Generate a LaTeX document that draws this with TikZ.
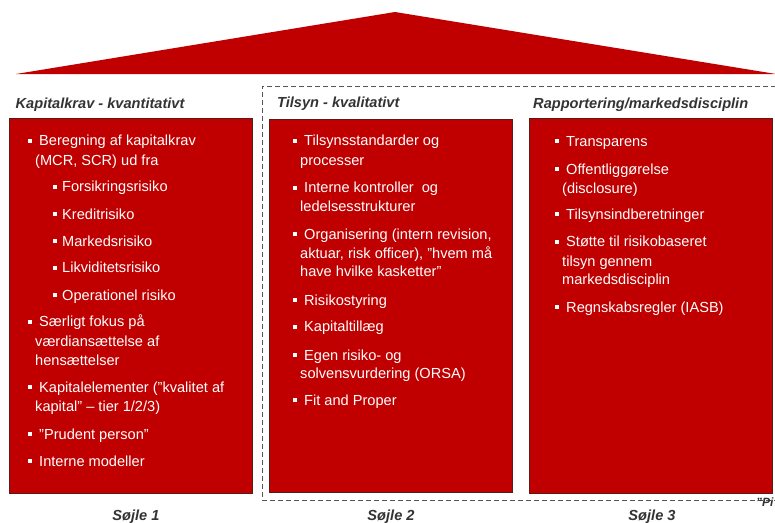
\documentclass[tikz,border=0pt]{standalone}
\usepackage{fontspec}
\setmainfont{Liberation Sans}
\definecolor{pred}{HTML}{C00000}
\definecolor{pborder}{HTML}{5A1A1A}
\definecolor{hdrgray}{HTML}{333333}
\definecolor{dashgray}{HTML}{555555}
\newcommand\pitem[5]{%
  \node[bul] (#1b) at ({#2+2},{#4-5}) {};
  \node[ln] (#1) at (#3,#4) {#5};}
\newcommand\pcont[4]{%
  \node[ln] (#1) at (#2,#3) {#4};}
\begin{document}
\begin{tikzpicture}[x=1pt,y=-1pt,
  roof/.style={fill=pred},
  pillar/.style={draw=pborder,fill=pred,line width=0.8pt},
  frame/.style={draw=dashgray,dash pattern=on 5pt off 3pt,line width=0.8pt},
  hdr/.style={font=\fontsize{14.6}{17}\selectfont\bfseries\itshape,text=hdrgray,anchor=base west,inner sep=0pt},
  ft/.style={font=\fontsize{14.6}{17}\selectfont\bfseries\itshape,text=hdrgray,anchor=base,inner sep=0pt},
  ln/.style={font=\fontsize{14.6}{17}\selectfont,text=white,anchor=base west,inner sep=0pt},
  bul/.style={fill=white,minimum size=4pt,inner sep=0pt,outer sep=0pt}]
\useasboundingbox (0,0) rectangle (775,522);
% roof
\fill[roof] (16,74) -- (395,12) -- (776,74) -- cycle;
% dashed frame
\draw[frame] (776,86) -- (262,86) -- (262,500) -- (776,500);
% pillars
\draw[pillar] (9,118) rectangle (252,493);
\draw[pillar] (269,119) rectangle (512,492);
\draw[pillar] (529,118) rectangle (772,493);
% headers
\node[hdr] (h1) at (15.5,108) {Kapitalkrav - kvantitativt};
\node[hdr] (h2) at (277,107) {Tilsyn - kvalitativt};
\node[hdr] (h3) at (533,108) {Rapportering/markedsdisciplin};
% footers
\node[ft] (s1) at (136,520) {Søjle 1};
\node[ft] (s2) at (391,520) {Søjle 2};
\node[ft] (s3) at (652,520) {Søjle 3};
\node[hdr,font=\fontsize{12}{14}\selectfont\bfseries\itshape] (pi) at (756,506) {"Pi};
% pillar 1
\pitem{a1}{28}{39}{145.7}{Beregning af kapitalkrav}
\pcont{a1c}{35}{165}{(MCR, SCR) ud fra}
\pitem{s11}{53}{62}{191.7}{Forsikringsrisiko}
\pitem{s12}{53}{62}{219}{Kreditrisiko}
\pitem{s13}{53}{62}{246}{Markedsrisiko}
\pitem{s14}{53}{62}{272.7}{Likviditetsrisiko}
\pitem{s15}{53}{62}{300}{Operationel risiko}
\pitem{a2}{28}{39}{326.7}{Særligt fokus på}
\pcont{a2c}{35}{346.5}{værdiansættelse af}
\pcont{a2d}{35}{365.7}{hensættelser}
\pitem{a3}{28}{39}{392.3}{Kapitalelementer (”kvalitet af}
\pcont{a3c}{35}{411.7}{kapital” – tier 1/2/3)}
\pitem{a4}{28}{39}{439}{”Prudent person”}
\pitem{a5}{28}{39}{466}{Interne modeller}
% pillar 2
\pitem{b1}{293}{304}{145.7}{Tilsynsstandarder og}
\pcont{b1c}{300}{165}{processer}
\pitem{b2}{293}{304}{192.7}{Interne kontroller\ \ og}
\pcont{b2c}{300}{211}{ledelsesstrukturer}
\pitem{b3}{293}{304}{239.3}{Organisering (intern revision,}
\pcont{b3c}{300}{258.3}{aktuar, risk officer), "hvem må}
\pcont{b3d}{300}{276.7}{have hvilke kasketter"}
\pitem{b4}{293}{304}{305}{Risikostyring}
\pitem{b5}{293}{304}{331.7}{Kapitaltillæg}
\pitem{b6}{293}{304}{360}{Egen risiko- og}
\pcont{b6c}{300}{378.3}{solvensvurdering (ORSA)}
\pitem{b7}{293}{304}{405}{Fit and Proper}
% pillar 3
\pitem{c1}{555}{566}{146}{Transparens}
\pitem{c2}{555}{566}{174.3}{Offentliggørelse}
\pcont{c2c}{562}{193.3}{(disclosure)}
\pitem{c3}{555}{566}{219.3}{Tilsynsindberetninger}
\pitem{c4}{555}{566}{246.7}{Støtte til risikobaseret}
\pcont{c4c}{562}{266}{tilsyn gennem}
\pcont{c4d}{562}{284.3}{markedsdisciplin}
\pitem{c5}{555}{566}{312.3}{Regnskabsregler (IASB)}
\end{tikzpicture}
\end{document}
